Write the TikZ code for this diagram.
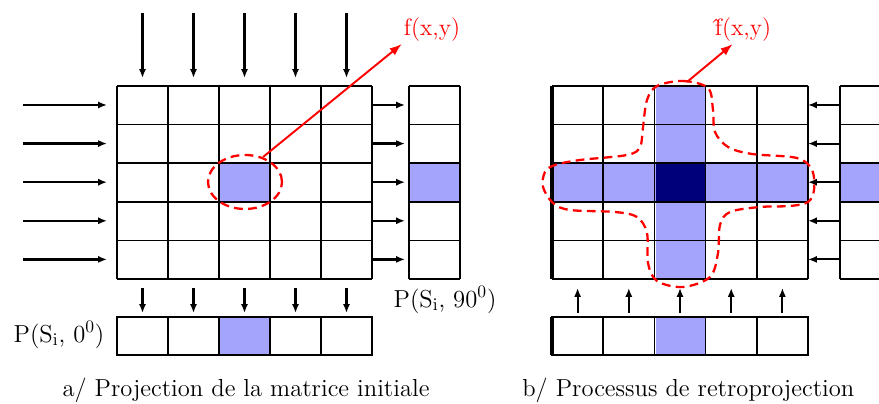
\documentclass[tikz,border=0pt]{standalone}
\usepackage{tikz}
\usetikzlibrary{arrows.meta,positioning,calc}
\definecolor{cellblue}{RGB}{164,164,252}
\definecolor{cellnavy}{RGB}{0,0,122}

\tikzset{
  gridline/.style={draw=black, line width=0.9pt},
  projarrow/.style={line width=1.3pt, -{Latex[length=5pt,width=4pt]}},
  backarrow/.style={line width=1.1pt, -{Latex[length=5pt,width=4pt]}},
  redarrow/.style={red, line width=1.1pt, -{Latex[length=7pt,width=5pt]}},
  contour/.style={red, line width=1.3pt, dash pattern=on 5pt off 3pt},
  redlabel/.style={text=red, font=\fontsize{13.5}{16}\selectfont, inner sep=1pt},
  caption/.style={font=\fontsize{14}{17}\selectfont, inner sep=0pt},
  plabel/.style={font=\fontsize{14}{17}\selectfont, inner sep=0pt}
}

\begin{document}
\begin{tikzpicture}[x=0.02cm, y=-0.02cm]
\useasboundingbox (0,0) rectangle (879,404);

% --- a/ projection ---
\fill[cellblue] (220,163) rectangle (271,202);
\fill[cellblue] (409,163) rectangle (460,202);
\fill[cellblue] (220,317) rectangle (271,355);
\foreach \i in {0,...,5}
  \draw[gridline] ({117+51*\i},86) -- ({117+51*\i},279);
\foreach \j in {0,...,5}
  \draw[gridline] (117,{86+38.6*\j}) -- (372,{86+38.6*\j});
\foreach \j in {0,...,5}
  \draw[gridline] (409,{86+38.6*\j}) -- (460,{86+38.6*\j});
\draw[gridline] (409,86) -- (409,279) (460,86) -- (460,279);
\draw[gridline] (117,317) rectangle (372,355);
\foreach \i in {1,...,4}
  \draw[gridline] ({117+51*\i},317) -- ({117+51*\i},355);

\foreach \i in {0,...,4} {
  \draw[projarrow] ({142.5+51*\i},13) -- ({142.5+51*\i},78);
  \draw[projarrow] ({142.5+51*\i},288) -- ({142.5+51*\i},313);
}
\foreach \j in {0,...,4} {
  \draw[projarrow] (23,{105+38.6*\j}) -- (107,{105+38.6*\j});
  \draw[projarrow] (372,{105+38.6*\j}) -- (405,{105+38.6*\j});
}

\coordinate (pixa) at (263,157);
\node[redlabel] (fxy) at (432,30) {f(x,y)};
\draw[contour] (245,182) ellipse [x radius=0.74cm, y radius=0.54cm];
\draw[redarrow] (pixa) -- (fxy.south west);

\node[plabel] (p90) at (445,300) {P(S$_{\mathrm{i}}$, 90$^0$)};
\node[plabel] (p0) at (59,335) {P(S$_{\mathrm{i}}$, 0$^0$)};
\node[caption] (capa) at (246,390) {a/ Projection de la matrice initiale};

% --- b/ retroprojection ---
\fill[cellblue] (552,163) rectangle (808,202);
\fill[cellblue] (656,86) rectangle (706,279);
\fill[cellnavy] (656,163) rectangle (706,202);
\fill[cellblue] (840,163) rectangle (891,202);
\fill[cellblue] (656,317) rectangle (706,355);
\foreach \i in {0,...,5}
  \draw[gridline] ({552+51.2*\i},86) -- ({552+51.2*\i},279);
\foreach \j in {0,...,5}
  \draw[gridline] (552,{86+38.6*\j}) -- (808,{86+38.6*\j});
\foreach \j in {0,...,5}
  \draw[gridline] (840,{86+38.6*\j}) -- (891,{86+38.6*\j});
\draw[gridline] (840,86) -- (840,279);
\draw[gridline] (552,317) rectangle (808,355);
\foreach \i in {1,...,4}
  \draw[gridline] ({552+51.2*\i},317) -- ({552+51.2*\i},355);
\draw[line width=2pt] (552,86) -- (552,279) (552,317) -- (552,355);

\foreach \i in {0,...,4}
  \draw[backarrow] ({577.6+51.2*\i},313) -- ({577.6+51.2*\i},288);
\foreach \j in {0,...,4}
  \draw[backarrow] (840,{105+38.6*\j}) -- (808,{105+38.6*\j});

\coordinate (pixb) at (687,82);
\node[redlabel] (fhat) at (743,30) {\^{f}(x,y)};
\draw[contour] plot[smooth cycle, tension=0.55] coordinates {
  (657,86) (683,81) (708,88) (713,110) (715,132) (728,147) (752,154)
  (797,158) (812,170) (814,190) (808,202) (790,206) (760,207) (730,212)
  (720,225) (718,253) (710,277) (683,287) (657,281) (648,263) (647,233)
  (637,217) (615,212) (570,210) (553,203) (543,187) (545,172) (555,165)
  (580,160) (627,155) (640,147) (643,127) (647,100)};
\draw[redarrow] (pixb) -- ($(fhat.south west)!0.33!(fhat.south east)$);

\node[caption, anchor=west] (capb) at (522,390) {b/ Processus de retroprojection};
\end{tikzpicture}
\end{document}
